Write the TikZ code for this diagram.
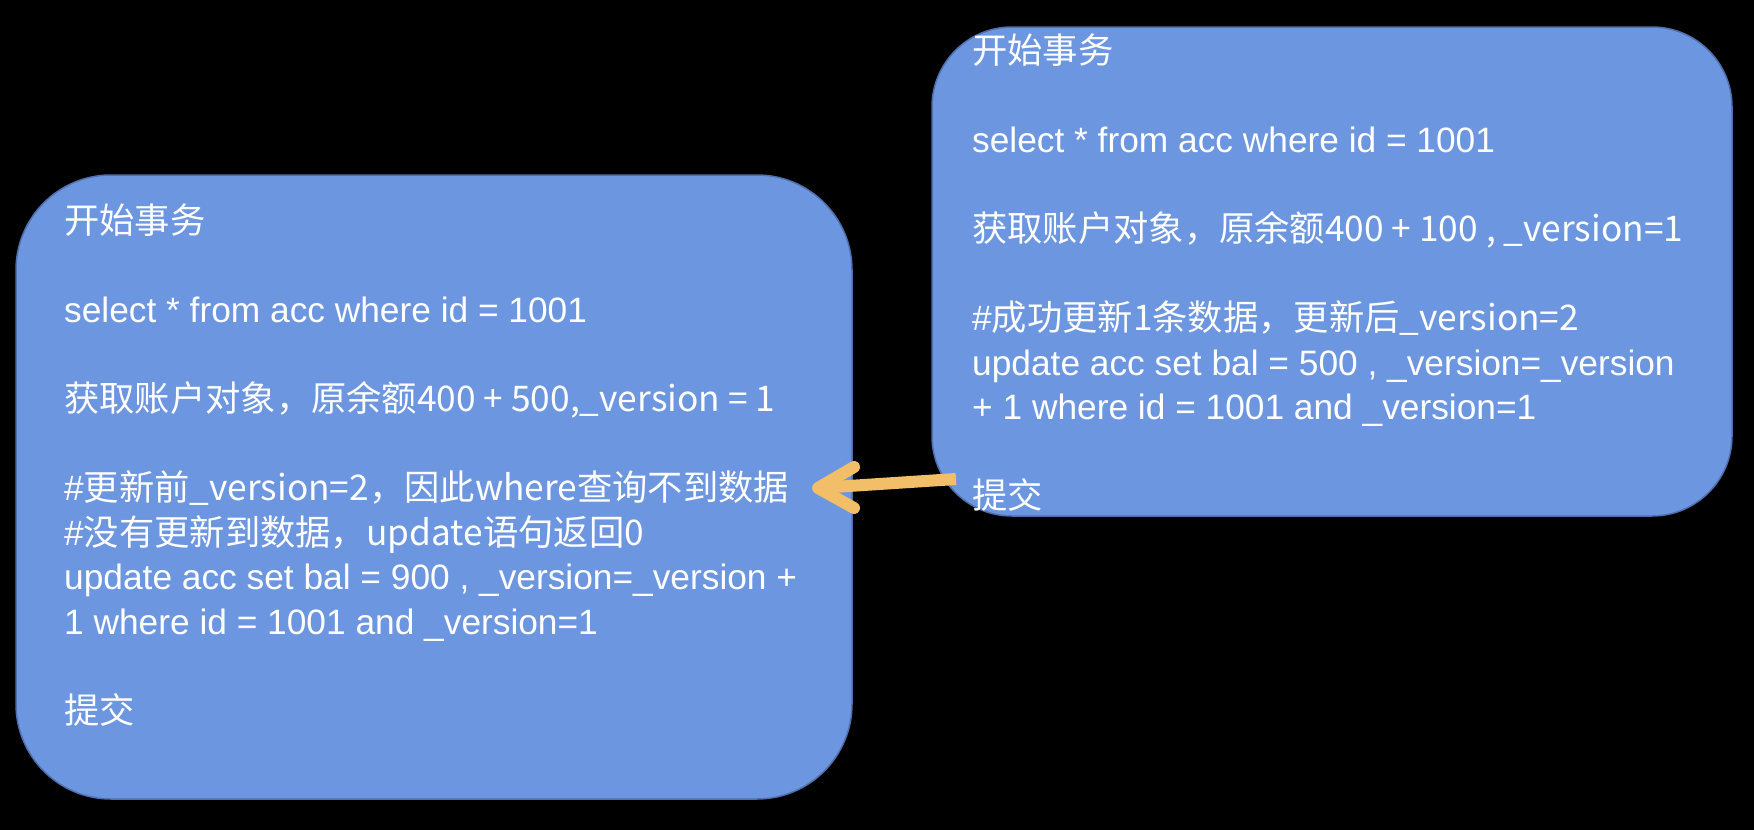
\documentclass[tikz,border=0pt]{standalone}
\usepackage{fontspec}
\setmainfont{Liberation Sans}
\newfontfamily\cjk{Noto Sans CJK SC}
\definecolor{boxfill}{HTML}{6D96E0}
\definecolor{boxline}{HTML}{4F70AC}
\definecolor{arrowc}{HTML}{F2BE68}
\tikzset{
  box/.style={draw=boxline, fill=boxfill, line width=1.5pt, inner sep=0pt},
  txt/.style={text=white, align=left, inner sep=0pt, anchor=north west,
    font={\fontsize{35.3pt}{44.5pt}\selectfont}},
  arrowline/.style={draw=arrowc, line width=12pt, line cap=round, line join=round},
}
\newcommand{\blank}{\\[44.5pt]}
\begin{document}
\begin{tikzpicture}[x=1pt,y=-1pt]
\fill[black] (0,0) rectangle (1754,830);
\useasboundingbox (0,0) rectangle (1754,830);
% boxes
\node[box, rounded corners=95pt, minimum width=836pt, minimum height=624pt] (L) at (434,487) {};
\node[box, rounded corners=80pt, minimum width=800pt, minimum height=489pt] (R) at (1332,271.5) {};
% texts
\node[txt] (Ltext) at (64,204) {%
\cjk{开始事务}\blank
select * from acc where id = 1001\blank
\cjk{获取账户对象，原余额}400 + 500,\_version = 1\blank
\#\cjk{更新前}\_version=2\cjk{，因此}where\cjk{查询不到数据}\\
\#\cjk{没有更新到数据，}update\cjk{语句返回}0\\
update acc set bal = 900 , \_version=\_version +\\
1 where id = 1001 and \_version=1\blank
\cjk{提交}};
\node[txt] (Rtext) at (972,34) {%
\cjk{开始事务}\blank
select * from acc where id = 1001\blank
\cjk{获取账户对象，原余额}400 + 100 , \_version=1\blank
\#\cjk{成功更新}1\cjk{条数据，更新后}\_version=2\\
update acc set bal = 500 , \_version=\_version\\
+ 1 where id = 1001 and \_version=1\blank
\cjk{提交}};
% arrow
\coordinate (s) at (956,479);
\coordinate (tip) at (818,488);
\coordinate (a1) at (854,467);
\coordinate (a2) at (854,508);
\draw[arrowline, line cap=butt] (s) -- (tip);
\draw[arrowline] (a1) -- (tip) -- (a2);
\end{tikzpicture}
\end{document}
